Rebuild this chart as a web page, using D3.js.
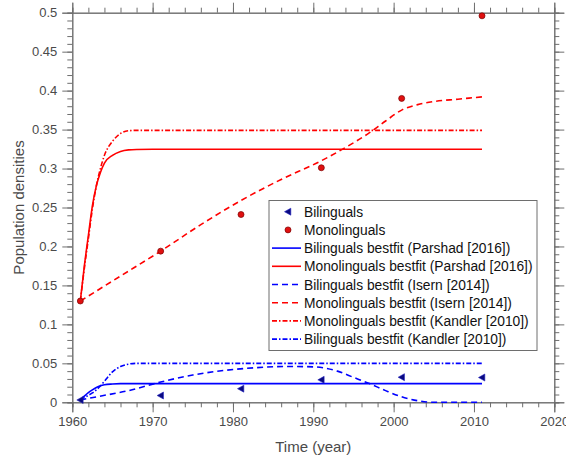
<!DOCTYPE html>
<html>
<head>
<meta charset="utf-8">
<script src="https://cdn.jsdelivr.net/npm/d3@7"></script>
<style>
  html, body { margin: 0; padding: 0; background: #fff; }
  svg { display: block; }
  text { font-family: "Liberation Sans", Arial, sans-serif; }
</style>
</head>
<body>
<svg id="chart" width="566" height="457"></svg>
<script>
// ---- data ----
const dataYears = [1961, 1971, 1981, 1991, 2001, 2011];
const bilinguals = [0.003, 0.0087, 0.0175, 0.0288, 0.0322, 0.0318];
const monolinguals = [0.130, 0.194, 0.241, 0.301, 0.390, 0.496];

const parshadYears = [1961, 1961.5, 1962, 1962.5, 1963, 1963.5, 1964, 1965, 1966, 1967, 1968, 1970, 2011];
const parshadMono = [0.130, 0.175, 0.214, 0.252, 0.278, 0.295, 0.307, 0.317, 0.322, 0.324, 0.3245, 0.3247, 0.3247];
const parshadBil = [0.003, 0.008, 0.0125, 0.016, 0.019, 0.0212, 0.0225, 0.0235, 0.024, 0.024, 0.024, 0.024, 0.024];

const kandlerYears = [1961, 1961.5, 1962, 1962.5, 1963, 1963.5, 1964, 1965, 1966, 1967, 1968, 1970, 2011];
const kandlerMono = [0.130, 0.172, 0.210, 0.248, 0.278, 0.300, 0.317, 0.335, 0.345, 0.3485, 0.349, 0.349, 0.349];
const kandlerBil = [0.003, 0.006, 0.009, 0.012, 0.016, 0.021, 0.027, 0.039, 0.046, 0.049, 0.050, 0.050, 0.050];

const isernMonoYears = [1961, 1966, 1971, 1976, 1981, 1986, 1991, 1994, 1997, 1999, 2001, 2003, 2005, 2008, 2011];
const isernMono = [0.130, 0.162, 0.194, 0.228, 0.259, 0.286, 0.310, 0.327, 0.346, 0.361, 0.375, 0.382, 0.386, 0.389, 0.392];
const isernBilYears = [1961, 1963, 1967, 1971, 1975, 1979, 1983, 1987, 1990, 1993, 1995, 1997, 1999, 2001, 2003, 2005, 2008, 2011];
const isernBil = [0.003, 0.007, 0.015, 0.026, 0.035, 0.041, 0.0445, 0.046, 0.0455, 0.040, 0.032, 0.024, 0.015, 0.007, 0.002, 0.0, 0.0, 0.0];

const xTicks = [1960, 1970, 1980, 1990, 2000, 2010, 2020];
const yTicks = [0, 0.05, 0.1, 0.15, 0.2, 0.25, 0.3, 0.35, 0.4, 0.45, 0.5];
const yTickLabels = ["0", "0.05", "0.1", "0.15", "0.2", "0.25", "0.3", "0.35", "0.4", "0.45", "0.5"];
const legendLabels = [
  "Bilinguals",
  "Monolinguals",
  "Bilinguals bestfit (Parshad [2016])",
  "Monolinguals bestfit (Parshad [2016])",
  "Bilinguals bestfit (Isern [2014])",
  "Monolinguals bestfit (Isern [2014])",
  "Monolinguals bestfit (Kandler [2010])",
  "Bilinguals bestfit (Kandler [2010])"
];

// ---- layout ----
const L = 72.3, R = 554.3, T = 12.7, B = 402.3;
const svg = d3.select("#chart");
const x = d3.scaleLinear().domain([1960, 2020]).range([L, R]);
const y = d3.scaleLinear().domain([0, 0.5]).range([B, T]);

const axisColor = "#6e6e6e";
const textColor = "#4a4a4a";
const BLUE = "#0000ff", RED = "#ff0000";
const DASH = "6,4", DASHDOT = "5,2,1.5,2";

const xMinor = d3.range(1960, 2020.01, 2);
const yMinor = d3.range(0, 0.5001, 0.01);

function styleAxis(g) {
  g.selectAll("path, line").attr("stroke", axisColor).attr("stroke-width", 1);
  g.selectAll("text").attr("fill", textColor).style("font-size", "13px")
    .style("font-family", "'Liberation Sans', Arial, sans-serif");
}

// minor ticks
svg.append("g").attr("transform", `translate(0,${B})`)
  .call(d3.axisBottom(x).tickValues(xMinor).tickSize(5).tickFormat("")).call(styleAxis);
svg.append("g").attr("transform", `translate(0,${T})`)
  .call(d3.axisTop(x).tickValues(xMinor).tickSize(5).tickFormat("")).call(styleAxis);
svg.append("g").attr("transform", `translate(${L},0)`)
  .call(d3.axisLeft(y).tickValues(yMinor).tickSize(5).tickFormat("")).call(styleAxis);
svg.append("g").attr("transform", `translate(${R},0)`)
  .call(d3.axisRight(y).tickValues(yMinor).tickSize(5).tickFormat("")).call(styleAxis);

// major ticks
svg.append("g").attr("transform", `translate(0,${B})`)
  .call(d3.axisBottom(x).tickValues(xTicks).tickSize(10).tickPadding(4).tickFormat(d3.format("d")))
  .call(styleAxis);
svg.append("g").attr("transform", `translate(0,${T})`)
  .call(d3.axisTop(x).tickValues(xTicks).tickSize(10).tickFormat("")).call(styleAxis);
svg.append("g").attr("transform", `translate(${L},0)`)
  .call(d3.axisLeft(y).tickValues(yTicks).tickSize(10).tickPadding(5).tickFormat((d, i) => yTickLabels[i]))
  .call(styleAxis);
svg.append("g").attr("transform", `translate(${R},0)`)
  .call(d3.axisRight(y).tickValues(yTicks).tickSize(10).tickFormat("")).call(styleAxis);

// axis labels
svg.append("text").attr("x", (L + R) / 2).attr("y", 452).attr("text-anchor", "middle")
  .attr("fill", textColor).style("font-size", "15px").text("Time (year)");
svg.append("text").attr("transform", `translate(24,${(T + B) / 2}) rotate(-90)`)
  .attr("text-anchor", "middle").attr("fill", textColor).style("font-size", "15px")
  .text("Population densities");

// ---- curves ----
const line = d3.line().x(d => x(d[0])).y(d => y(d[1])).curve(d3.curveMonotoneX);
function zip(a, b) { return a.map((v, i) => [v, b[i]]); }

const curves = [
  { xs: parshadYears, ys: parshadBil, color: BLUE, dash: null },
  { xs: parshadYears, ys: parshadMono, color: RED, dash: null },
  { xs: isernBilYears, ys: isernBil, color: BLUE, dash: DASH },
  { xs: isernMonoYears, ys: isernMono, color: RED, dash: DASH },
  { xs: kandlerYears, ys: kandlerMono, color: RED, dash: DASHDOT },
  { xs: kandlerYears, ys: kandlerBil, color: BLUE, dash: DASHDOT }
];
curves.forEach(c => {
  svg.append("path").datum(zip(c.xs, c.ys)).attr("d", line)
    .attr("fill", "none").attr("stroke", c.color).attr("stroke-width", 1.6)
    .attr("stroke-dasharray", c.dash);
});

// ---- markers ----
const triPath = s => `M${-s},0L${s * 0.8},${-s}L${s * 0.8},${s}Z`;
svg.append("g").selectAll("path").data(zip(dataYears, bilinguals)).join("path")
  .attr("transform", d => `translate(${x(d[0])},${y(d[1])})`)
  .attr("d", triPath(3.5)).attr("fill", "#0a0a80").attr("stroke", "#2020c0").attr("stroke-width", 0.6);
svg.append("g").selectAll("circle").data(zip(dataYears, monolinguals)).join("circle")
  .attr("cx", d => x(d[0])).attr("cy", d => y(d[1])).attr("r", 3)
  .attr("fill", "#e01010").attr("stroke", "#7a0000").attr("stroke-width", 0.7);

// ---- legend ----
const lg = svg.append("g");
const lgL = 269, lgT = 200.5, lgR = 537, lgB = 350.5;
lg.append("rect").attr("x", lgL).attr("y", lgT).attr("width", lgR - lgL).attr("height", lgB - lgT)
  .attr("fill", "#fff").attr("stroke", "#6e6e6e").attr("stroke-width", 1);
const rowY = i => 211.7 + i * 18.2;
const items = [
  { type: "tri" }, { type: "circ" },
  { color: BLUE, dash: null }, { color: RED, dash: null },
  { color: BLUE, dash: DASH }, { color: RED, dash: DASH },
  { color: RED, dash: DASHDOT }, { color: BLUE, dash: DASHDOT }
];
items.forEach((it, i) => {
  const yy = rowY(i);
  if (it.type === "tri") {
    lg.append("path").attr("transform", `translate(288,${yy})`).attr("d", triPath(3.5))
      .attr("fill", "#0a0a80").attr("stroke", "#2020c0").attr("stroke-width", 0.6);
  } else if (it.type === "circ") {
    lg.append("circle").attr("cx", 288).attr("cy", yy).attr("r", 3)
      .attr("fill", "#e01010").attr("stroke", "#7a0000").attr("stroke-width", 0.7);
  } else {
    lg.append("line").attr("x1", 272).attr("x2", 301).attr("y1", yy).attr("y2", yy)
      .attr("stroke", it.color).attr("stroke-width", 1.6).attr("stroke-dasharray", it.dash);
  }
  lg.append("text").attr("x", 304).attr("y", yy + 5).attr("fill", "#111")
    .style("font-size", "13.8px").text(legendLabels[i]);
});
</script>
</body>
</html>
